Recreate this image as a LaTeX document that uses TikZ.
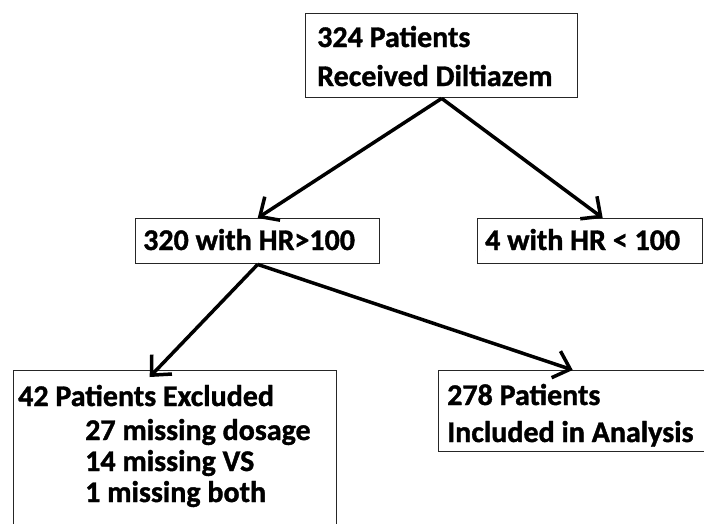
\documentclass[tikz,border=0pt]{standalone}
\usepackage{fontspec}
\setmainfont{Carlito}[BoldFeatures={FakeBold=1.2}]
\usetikzlibrary{arrows.meta}
\begin{document}
\begin{tikzpicture}[x=1pt,y=-1pt,
  box/.style={draw=black!85, line width=1.4pt, inner sep=0pt},
  arr/.style={-{Straight Barb[length=15pt,width=28pt,line width=3.5pt]}, line width=3.5pt},
  txt/.style={anchor=base west, inner sep=0pt, font=\fontsize{30}{32}\selectfont\bfseries}]
\useasboundingbox (0,0) rectangle (704,523);
\begin{scope}
\clip (0,0) rectangle (704,523);
\node[box, anchor=north west, minimum width=272pt, minimum height=84pt] (top) at (305,13) {};
\node[box, anchor=north west, minimum width=244pt, minimum height=45pt] (b2) at (135,218) {};
\node[box, anchor=north west, minimum width=225pt, minimum height=45pt] (b3) at (477,218) {};
\node[box, anchor=north west, minimum width=323pt, minimum height=170pt] (b4) at (13,370) {};
\node[box, anchor=north west, minimum width=268pt, minimum height=81pt] (b5) at (438,370) {};
\end{scope}
\node[txt] (t1) at (317,47) {324 Patients};
\node[txt] (t2) at (317,86) {Received Diltiazem};
\node[txt] (t3) at (143,250) {320 with HR>100};
\node[txt] (t4) at (485,250) {4 with HR < 100};
\node[txt] (t5) at (18,406) {42 Patients Excluded};
\node[txt] (t6) at (85,440) {27 missing dosage};
\node[txt] (t7) at (85,471) {14 missing VS};
\node[txt] (t8) at (85,502) {1 missing both};
\node[txt] (t9) at (447,405) {278 Patients};
\node[txt] (t10) at (447,442) {Included in Analysis};
\draw[arr] (top.south) -- (b2.north);
\draw[arr] (top.south) -- ([xshift=12.5pt]b3.north);
\draw[arr] (b2.south) -- ([xshift=-25.5pt,yshift=-7pt]b4.north);
\draw[arr] (b2.south) -- (b5.north);
\end{tikzpicture}
\end{document}
